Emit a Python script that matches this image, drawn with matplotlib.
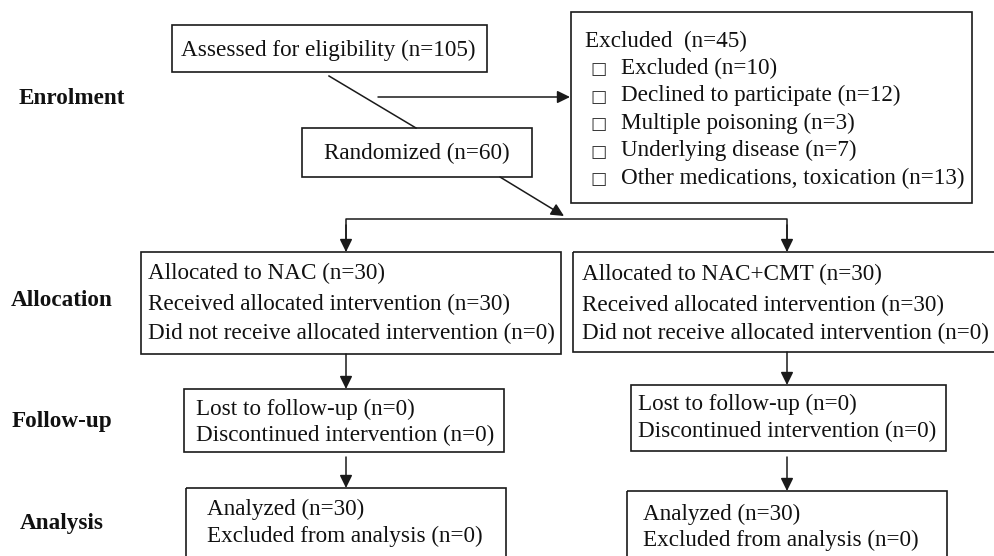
import matplotlib.pyplot as plt
from matplotlib.patches import Rectangle

plt.rcParams['font.family'] = ['Liberation Serif', 'DejaVu Sans']

# stage labels down the left side
stages = ['Enrolment', 'Allocation', 'Follow-up', 'Analysis']

# enrolment numbers
assessed_n = 105
randomized_n = 60
excluded_n = 45
excluded_reasons = ['Excluded', 'Declined to participate', 'Multiple poisoning',
                    'Underlying disease', 'Other medications, toxication']
excluded_reason_n = [10, 12, 3, 7, 13]

# the two arms
arms = ['NAC', 'NAC+CMT']
allocated_n = [30, 30]
received_n = [30, 30]
not_received_n = [0, 0]
lost_n = [0, 0]
discontinued_n = [0, 0]
analyzed_n = [30, 30]
excluded_analysis_n = [0, 0]

FS = 16.7
LC = '#1a1a1a'

fig = plt.figure(figsize=(9.94, 5.56), dpi=100)
ax = fig.add_axes([0, 0, 1, 1])
ax.set_xlim(0, 994)
ax.set_ylim(556, 0)
ax.axis('off')


def box(x0, y0, x1, y1):
    ax.add_patch(Rectangle((x0, y0), x1 - x0, y1 - y0, fill=False,
                           edgecolor=LC, lw=1.2))


def arrow(start, end):
    ax.annotate('', xy=end, xytext=start,
                arrowprops=dict(arrowstyle='-|>,head_length=0.55,head_width=0.27',
                                mutation_scale=14, lw=1.1, color=LC,
                                shrinkA=0, shrinkB=0))


def txt(x, y, s, **kw):
    ax.text(x, y + 1, s, fontsize=FS, va='center', color='#111111', **kw)


# stage labels
stage_y = [98, 300, 420, 523]
stage_x = [19, 11, 12, 20]
for lab, x, y in zip(stages, stage_x, stage_y):
    txt(x, y, lab, fontweight='bold')

# enrolment part
box(172, 25, 487, 72)
txt(181, 49, f'Assessed for eligibility (n={assessed_n})')

box(302, 128, 532, 177)
txt(417, 152, f'Randomized (n={randomized_n})', ha='center')

box(571, 12, 972, 203)
txt(585, 40, f'Excluded  (n={excluded_n})')
for i, (r, n) in enumerate(zip(excluded_reasons, excluded_reason_n)):
    y = 67 + 27.6 * i
    ax.text(599, y + 2, '\u25a1', fontsize=12.5, va='center', ha='center',
            family='DejaVu Sans', color='#333333')
    txt(621, y, f'{r} (n={n})')

ax.plot([329, 416], [76, 128], color=LC, lw=1.1)
arrow((378, 97), (570, 97))
arrow((500, 177), (564, 216))

# branch to the two arms
ax.plot([346, 346, 787, 787], [250, 219, 219, 250], color=LC, lw=1.1)

cx = [346, 787]
alloc_box = [(141, 252, 561, 354), (573, 252, 1000, 352)]
alloc_tx = [148, 582]
alloc_ty = [(272, 303, 332), (273, 304, 332)]
follow_box = [(184, 389, 504, 452), (631, 385, 946, 451)]
follow_tx = [196, 638]
follow_ty = [(408, 434), (403, 430)]
anal_box = [(186, 488, 506, 600), (627, 491, 947, 600)]
anal_tx = [207, 643]
anal_ty = [(508, 535), (513, 539)]

for k in range(2):
    arrow((cx[k], 225), (cx[k], 252))
    box(*alloc_box[k])
    lines = [f'Allocated to {arms[k]} (n={allocated_n[k]})',
             f'Received allocated intervention (n={received_n[k]})',
             f'Did not receive allocated intervention (n={not_received_n[k]})']
    for s, y in zip(lines, alloc_ty[k]):
        txt(alloc_tx[k], y, s)

    arrow((cx[k], alloc_box[k][3]), (cx[k], follow_box[k][1]))
    box(*follow_box[k])
    lines = [f'Lost to follow-up (n={lost_n[k]})',
             f'Discontinued intervention (n={discontinued_n[k]})']
    for s, y in zip(lines, follow_ty[k]):
        txt(follow_tx[k], y, s)

    arrow((cx[k], 457), (cx[k], anal_box[k][1]))
    box(*anal_box[k])
    lines = [f'Analyzed (n={analyzed_n[k]})',
             f'Excluded from analysis (n={excluded_analysis_n[k]})']
    for s, y in zip(lines, anal_ty[k]):
        txt(anal_tx[k], y, s)

fig.savefig('out.png', dpi=100)
